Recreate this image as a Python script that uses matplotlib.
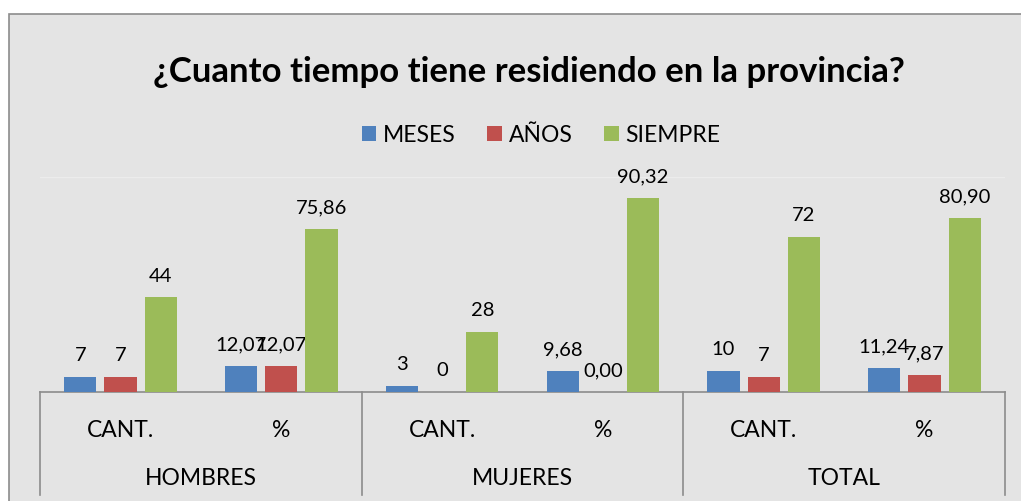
import matplotlib.pyplot as plt
from matplotlib.patches import Rectangle
from matplotlib.transforms import blended_transform_factory

plt.rcParams['font.family'] = ['Lato', 'DejaVu Sans']

titulo = "¿Cuanto tiempo tiene residiendo en la provincia?"
subcats = ["CANT.", "%", "CANT.", "%", "CANT.", "%"]
grupos = ["HOMBRES", "MUJERES", "TOTAL"]
series = ["MESES", "AÑOS", "SIEMPRE"]
meses = [7, 12.07, 3, 9.68, 10, 11.24]
anios = [7, 12.07, 0, 0.00, 7, 7.87]
siempre = [44, 75.86, 28, 90.32, 72, 80.90]
colores = ["#4F81BD", "#C0504D", "#9BBB59"]


def etiqueta(v, i):
    # CANT. columns are counts, % columns use two decimals with comma
    if i % 2 == 0:
        return "%d" % v
    return ("%.2f" % v).replace(".", ",")


W, H = 1021, 502
fig = plt.figure(figsize=(W / 100, H / 100), dpi=100)
fondo = Rectangle((9 / W, -0.1), 1.2, 1 - 15 / H + 0.1, transform=fig.transFigure,
                  facecolor="#e4e4e4", edgecolor="#8c8c8c", lw=1.2, zorder=-10)
fig.patches.append(fondo)

ax = fig.add_axes([40 / W, 109 / H, 965 / W, 215 / H])
ax.patch.set_alpha(0)

x = list(range(len(subcats)))
ancho = 0.2
for k, (datos, col) in enumerate(zip([meses, anios, siempre], colores)):
    pos = [xi + (k - 1) * 0.25 for xi in x]
    ax.bar(pos, datos, width=ancho, color=col, label=series[k], zorder=3)
    for i, (p, v) in enumerate(zip(pos, datos)):
        ax.annotate(etiqueta(v, i), (p, v), xytext=(0, 10), textcoords="offset points",
                    ha="center", va="bottom", fontsize=14.5, color="#000000")

ax.set_xlim(-0.5, 5.5)
ax.set_ylim(0, 100)
ax.axhline(100, color="#ececec", lw=1, zorder=1)
for s in ["top", "right", "left"]:
    ax.spines[s].set_visible(False)
ax.spines["bottom"].set_color("#8c8c8c")
ax.spines["bottom"].set_linewidth(1.2)
ax.set_xticks([])
ax.set_yticks([])

tr = blended_transform_factory(ax.transData, ax.transAxes)
for xs in [-0.5, 1.5, 3.5, 5.5]:
    ax.plot([xs, xs], [0, -0.48], transform=tr, color="#8c8c8c", lw=1.2, clip_on=False)
for i, s in enumerate(subcats):
    ax.text(i, -0.175, s, transform=tr, ha="center", va="center", fontsize=16.5)
for g, nombre in enumerate(grupos):
    ax.text(2 * g + 0.5, -0.40, nombre, transform=tr, ha="center", va="center", fontsize=16.5)

fig.text(529 / W, 1 - 72 / H, titulo, ha="center", va="center", fontsize=25, fontweight="bold")
fig.legend(loc="center", bbox_to_anchor=(541 / W, 1 - 136 / H), ncol=3, frameon=False,
           fontsize=16.5, handlelength=0.65, handleheight=0.65, handletextpad=0.3,
           columnspacing=1.35)

fig.savefig("out.png", dpi=100)
